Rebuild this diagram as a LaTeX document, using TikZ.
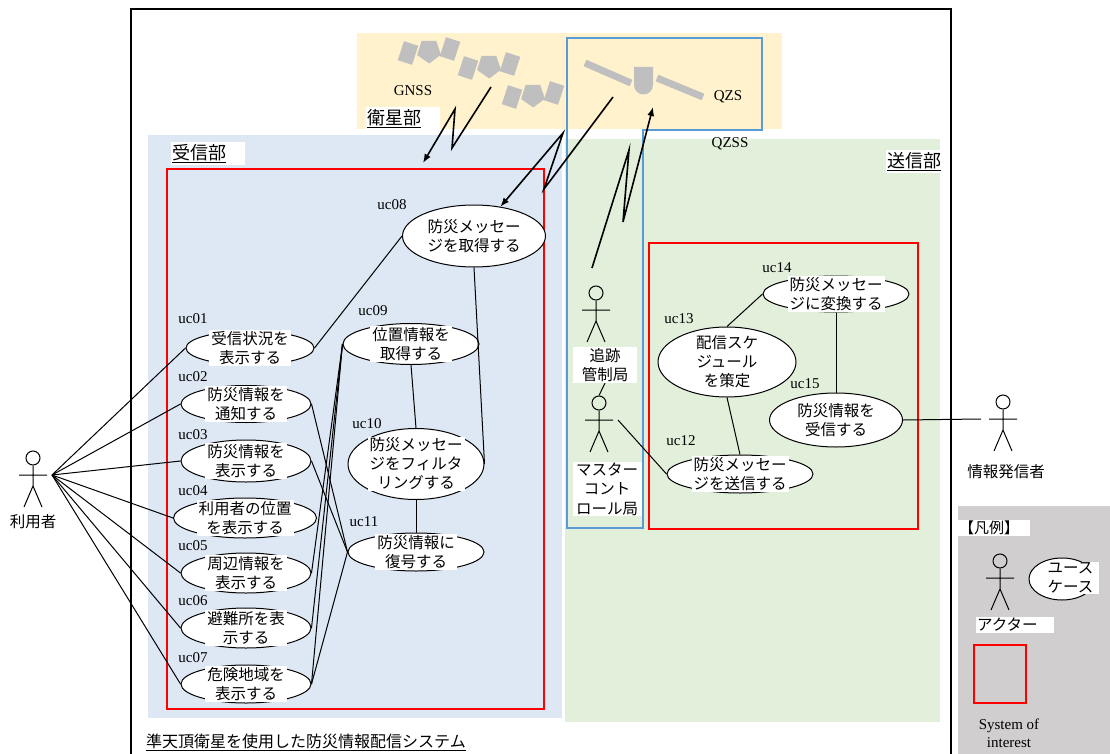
\documentclass[tikz,border=0pt]{standalone}
\usepackage{fontspec}
\setmainfont{Liberation Serif}
\newfontfamily\jpfont{Noto Sans CJK JP}
\usepackage{tikz}
\usetikzlibrary{shapes.geometric}
\usetikzlibrary{arrows.meta}

\definecolor{satbg}{HTML}{FFF2CC}
\definecolor{rxbg}{HTML}{DDE8F4}
\definecolor{txbg}{HTML}{E2EFDA}
\definecolor{legendbg}{HTML}{D0CECE}
\definecolor{qzssblue}{HTML}{5B9BD5}
\definecolor{satgray}{HTML}{BFBFBF}

\tikzset{
    usecase/.style={ellipse, draw, fill=white, line width=1pt, inner sep=0pt},
    uctext/.style={fill=white, align=center, inner xsep=2pt, inner ysep=1pt,
        font=\jpfont\fontsize{15.5}{19}\selectfont},
    ucid/.style={inner sep=0pt, font=\fontsize{15}{18}\selectfont},
    jplabel/.style={align=center, inner sep=1pt, font=\jpfont\fontsize{15.5}{19.5}\selectfont},
    partlabel/.style={anchor=north west, fill=white, align=left, inner xsep=1pt, inner ysep=2pt,
        font=\jpfont\fontsize{18}{20}\selectfont},
    assoc/.style={line width=1pt},
    bolt/.style={line width=1.6pt, -{Latex[length=9pt,width=7pt]}},
    soi/.style={draw=red, line width=2pt},
    panel/.style={fill=satgray, minimum width=15pt, minimum height=20pt, inner sep=0pt},
    satbody/.style={regular polygon, regular polygon sides=5, fill=satgray, minimum size=25pt, inner sep=0pt},
    actor/.pic={
        \node[circle, draw, line width=1pt, minimum size=14pt, inner sep=0pt] (-head) at (0,0) {};
        \draw[line width=1pt] (-head.south) -- (0,28) (-14,17) -- (14,17)
            (0,28) -- (-9,49) (0,28) -- (9,49);
        \coordinate (-e) at (19,17);
        \coordinate (-w) at (-22,17);
    }
}

\begin{document}
\begin{tikzpicture}[x=1pt, y=-1pt]
    \useasboundingbox (0,0) rectangle (1110,754);

    % subsystem areas
    \fill[satbg] (357,33) rectangle (782,129);
    \fill[rxbg] (148,135) rectangle (562,718);
    \fill[txbg] (565,139) rectangle (940,722);
    \fill[legendbg] (958,506) rectangle (1110,754);

    % system boundary
    \draw[line width=2pt] (131,754) -- (131,9) -- (951,9) -- (951,754);

    \node[partlabel, text width=72pt] (satpart) at (366,107) {\underline{衛星部}};
    \node[partlabel, text width=72pt] (rxpart) at (171,142) {\underline{受信部}};
    \node[partlabel, text width=53pt] (txpart) at (886,150) {\underline{送信部}};

    % systems of interest and QZSS
    \draw[soi] (167,169) rectangle (544,709);
    \draw[soi] (649,243) rectangle (918,529);
    \draw[qzssblue, line width=2pt] (567,38) -- (762,38) -- (762,130) -- (643,130)
        -- (643,528) -- (567,528) -- cycle;

    % GNSS constellation
    \foreach \sx/\sy in {429/51, 489/66, 533/95} {
        \node[panel, rotate=-18] at (\sx-21,\sy+2) {};
        \node[satbody, rotate=-35] at (\sx,\sy) {};
        \node[panel, rotate=-18] at (\sx+21,\sy-2) {};
    }
    \node[ucid] (gnss) at (413,91) {GNSS};

    % QZS
    \draw[satgray, line width=7pt] (585,63) -- (631,83);
    \draw[satgray, line width=7pt] (657,78) -- (703,97);
    \fill[satgray] (634,67) -- (653,67) -- (653,85) arc[start angle=0, end angle=180, radius=9.5] -- cycle;
    \node[ucid] (qzs) at (728,97) {QZS};
    \node[ucid] (qzss) at (730,144) {QZSS};

    % use cases
    \node[usecase, minimum width=128pt, minimum height=34pt] (uc01) at (250,348) {};
    \node[usecase, minimum width=130pt, minimum height=37pt] (uc02) at (246,404) {};
    \node[usecase, minimum width=130pt, minimum height=42pt] (uc03) at (246,461) {};
    \node[usecase, minimum width=143pt, minimum height=40pt] (uc04) at (245,518) {};
    \node[usecase, minimum width=130pt, minimum height=40pt] (uc05) at (246,573) {};
    \node[usecase, minimum width=130pt, minimum height=40pt] (uc06) at (246,628) {};
    \node[usecase, minimum width=130pt, minimum height=38pt] (uc07) at (246,684) {};
    \node[usecase, minimum width=143pt, minimum height=62pt] (uc08) at (474,236) {};
    \node[usecase, minimum width=136pt, minimum height=41pt] (uc09) at (411,344) {};
    \node[usecase, minimum width=136pt, minimum height=71pt] (uc10) at (416,464) {};
    \node[usecase, minimum width=136pt, minimum height=38pt] (uc11) at (416,552) {};
    \node[usecase, minimum width=146pt, minimum height=38pt] (uc12) at (740,474) {};
    \node[usecase, minimum width=138pt, minimum height=70pt] (uc13) at (727,362) {};
    \node[usecase, minimum width=146pt, minimum height=36pt] (uc14) at (836,294) {};
    \node[usecase, minimum width=133pt, minimum height=54pt] (uc15) at (836,420) {};

    % actors
    \pic (user) at (33,458) {actor};
    \pic (track) at (596,293) {actor};
    \pic (master) at (599,403) {actor};
    \pic (info) at (1003,402) {actor};

    \node[jplabel] (userlabel) at (33,522) {利用者};
    \node[jplabel, fill=white, minimum width=64pt] (tracklabel) at (605,365) {追跡\\管制局};
    \node[jplabel, fill=white, minimum width=69pt] (masterlabel) at (607,489) {マスター\\コント\\ロール局};
    \node[jplabel] (infolabel) at (1006,472) {情報発信者};

    % associations
    \foreach \uc in {uc01,uc02,uc03,uc04,uc05,uc06,uc07}
        \draw[assoc] (user-e) -- (\uc.west);
    \draw[assoc] (uc01.east) -- (uc08.west);
    \draw[assoc] (uc08.south) -- (uc10.east);
    \draw[assoc] (uc09.south) -- (uc10.north);
    \draw[assoc] (uc10.south) -- (uc11.north);
    \foreach \uc in {uc02,uc03,uc07}
        \draw[assoc] (\uc.east) -- (uc11.west);
    \foreach \uc in {uc05,uc06,uc07}
        \draw[assoc] (\uc.east) -- (uc09.west);
    \draw[assoc] (uc13.north) -- (uc14.west);
    \draw[assoc] (uc13.south) -- (uc12.north);
    \draw[assoc] (uc14.south) -- (uc15.north);
    \draw[assoc] (uc15.east) -- (info-w);
    \draw[assoc] (master-e) -- (uc12.west);
    \draw[assoc] (tracklabel.south) -- (master-head.north);

    % use case names and ids
    \node[uctext] at (uc01) {受信状況を\\表示する};
    \node[uctext] at (uc02) {防災情報を\\通知する};
    \node[uctext] at (uc03) {防災情報を\\表示する};
    \node[uctext] at (uc04) {利用者の位置\\を表示する};
    \node[uctext] at (uc05) {周辺情報を\\表示する};
    \node[uctext] at (uc06) {避難所を表\\示する};
    \node[uctext] at (uc07) {危険地域を\\表示する};
    \node[uctext] at (uc08) {防災メッセー\\ジを取得する};
    \node[uctext] at (uc09) {位置情報を\\取得する};
    \node[uctext] at (uc10) {防災メッセー\\ジをフィルタ\\リングする};
    \node[uctext] at (uc11) {防災情報に\\復号する};
    \node[uctext] at (uc12) {防災メッセー\\ジを送信する};
    \node[uctext] at (uc13) {配信スケ\\ジュール\\を策定};
    \node[uctext] at (uc14) {防災メッセー\\ジに変換する};
    \node[uctext] at (uc15) {防災情報を\\受信する};

    \node[ucid] at (193,319) {uc01};
    \node[ucid] at (193,377) {uc02};
    \node[ucid] at (193,435) {uc03};
    \node[ucid] at (193,491) {uc04};
    \node[ucid] at (193,546) {uc05};
    \node[ucid] at (193,601) {uc06};
    \node[ucid] at (193,658) {uc07};
    \node[ucid] at (392,205) {uc08};
    \node[ucid] at (373,311) {uc09};
    \node[ucid] at (367,424) {uc10};
    \node[ucid] at (364,522) {uc11};
    \node[ucid] at (681,441) {uc12};
    \node[ucid] at (679,319) {uc13};
    \node[ucid] at (777,268) {uc14};
    \node[ucid] at (805,384) {uc15};

    % radio links
    \coordinate (gnss-tx) at (491,87);
    \coordinate (rx-top) at (423,163);
    \coordinate (qzs-tx) at (613,97);
    \coordinate (qzs-rx) at (653,107);
    \coordinate (ground-tx) at (592,268);
    \draw[bolt] (gnss-tx) -- (452,148) -- (455,109) -- (rx-top);
    \draw[bolt] (qzs-tx) -- (544,189) -- (563,133) -- (uc08.48);
    \draw[bolt] (ground-tx) -- (629,150) -- (623,222) -- (qzs-rx);

    % legend
    \node[partlabel, inner ysep=1pt, text width=70pt, font=\jpfont\fontsize{15}{18}\selectfont] (legendtitle) at (958,520) {【凡例】};
    \pic (sample) at (1000,561) {actor};
    \node[jplabel, fill=white, text width=76pt, align=left] (samplelabel) at (1015,625) {アクター};
    \node[usecase, minimum width=66pt, minimum height=42pt] (ucsample) at (1062,579) {};
    \node[uctext, text width=49pt, align=left] at (1072,578) {ユース\\ケース};
    \draw[soi] (974,645) rectangle (1026,703);
    \node[ucid, align=center] (soilabel) at (1009,733) {System of\\interest};

    \node[inner sep=0pt, font=\jpfont\fontsize{16}{18}\selectfont] (title) at (306,742) {\underline{準天頂衛星を使用した防災情報配信システム}};
\end{tikzpicture}
\end{document}
